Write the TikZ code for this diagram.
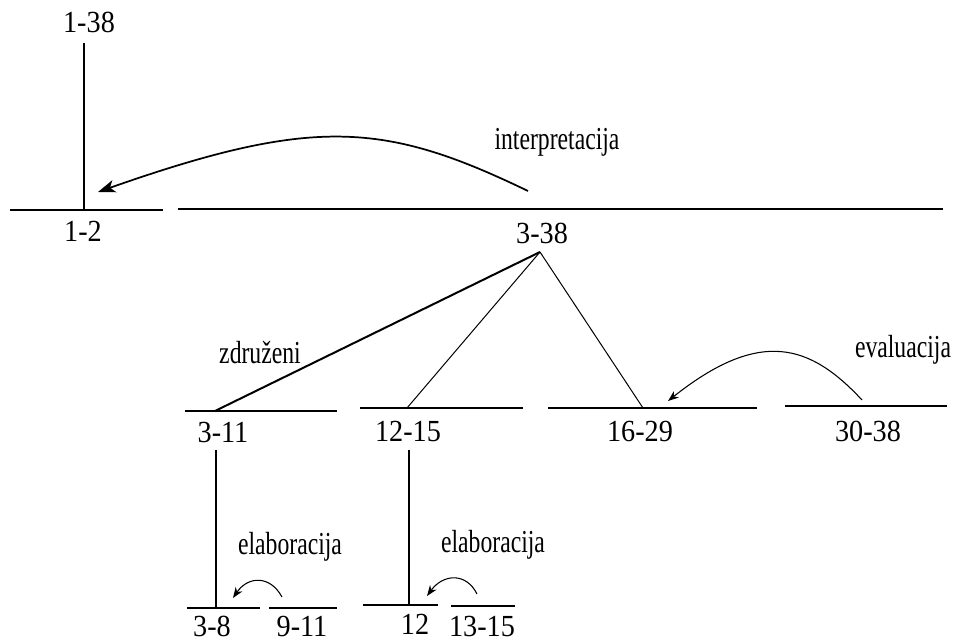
\documentclass[tikz,border=0pt]{standalone}
\usepackage{fontspec}
\setmainfont[FakeStretch=0.74]{Liberation Serif}
\newfontfamily\numfont[FakeStretch=0.92]{Liberation Serif}
\usetikzlibrary{arrows.meta}
\begin{document}
\begin{tikzpicture}[x=0.75pt,y=-0.75pt,
  lbl/.style={inner sep=0pt,font=\fontsize{24}{28}\selectfont},
  num/.style={inner sep=0pt,font=\numfont\fontsize{23}{27}\selectfont},
  seg/.style={line width=1.5pt},
  thinseg/.style={line width=0.75pt},
  bigarrow/.style={line width=1.3pt,-{Stealth[length=13pt,width=9.5pt,inset=3.5pt]}},
  smallarrow/.style={line width=0.8pt,-{Stealth[length=8pt,width=6pt,inset=2.5pt]}}]
\useasboundingbox (0,0) rectangle (964,641);
% labels
\node[num] (n138) at (89,22) {1-38};
\node[num] (n12) at (83,231) {1-2};
\node[lbl] (ninterp) at (557,142) {interpretacija};
\node[num] (n338) at (542,233) {3-38};
\node[lbl] (nzdr) at (260,353) {združeni};
\node[lbl] (neval) at (903,350) {evaluacija};
\node[num] (n311) at (223,432) {3-11};
\node[num] (n1215) at (408,431) {12-15};
\node[num] (n1629) at (640,431) {16-29};
\node[num] (n3038) at (868,431) {30-38};
\node[lbl] (nel1) at (290,547) {elaboracija};
\node[lbl] (nel2) at (493,545) {elaboracija};
\node[num] (n38) at (212,626) {3-8};
\node[num] (n911) at (302,626) {9-11};
\node[num] (n12b) at (415,624) {12};
\node[num] (n1315) at (482,626) {13-15};
% coordinates
\coordinate (t1) at (84,43);
\coordinate (b1) at (84,209);
\coordinate (h12a) at (10,210);
\coordinate (h12b) at (163,210);
\coordinate (h338a) at (178,209);
\coordinate (h338b) at (943,209);
\coordinate (apex) at (540,252);
\coordinate (h311a) at (185,411);
\coordinate (h311b) at (337,411);
\coordinate (j311) at (215,411);
\coordinate (h1215a) at (360,408);
\coordinate (h1215b) at (523,408);
\coordinate (j1215) at (407,408);
\coordinate (h1629a) at (548,408);
\coordinate (h1629b) at (757,408);
\coordinate (j1629) at (643,408);
\coordinate (h3038a) at (785,406);
\coordinate (h3038b) at (947,406);
\coordinate (v311t) at (216,450);
\coordinate (v311b) at (216,607);
\coordinate (v1215t) at (409,450);
\coordinate (v1215b) at (409,605);
\coordinate (h38a) at (187,608);
\coordinate (h38b) at (260,608);
\coordinate (h911a) at (269,608);
\coordinate (h911b) at (337,608);
\coordinate (h12ba) at (363,605);
\coordinate (h12bb) at (438,605);
\coordinate (h1315a) at (451,606);
\coordinate (h1315b) at (515,606);
\coordinate (ia) at (528,191);
\coordinate (ib) at (98,192);
\coordinate (ea) at (862,400);
\coordinate (eb) at (668,401);
\coordinate (e1a) at (282,597);
\coordinate (e1b) at (233,598);
\coordinate (e2a) at (477,594);
\coordinate (e2b) at (427,596);
% lines
\draw[line width=1pt] (t1) -- (b1);
\draw[seg] (h12a) -- (h12b);
\draw[seg] (h338a) -- (h338b);
\draw[seg] (h311a) -- (h311b);
\draw[line width=1.1pt] (h1215a) -- (h1215b);
\draw[seg] (h1629a) -- (h1629b);
\draw[line width=1.1pt] (h3038a) -- (h3038b);
\draw[line width=1.5pt] (apex) -- (j311);
\draw[thinseg] (apex) -- (j1215);
\draw[thinseg] (apex) -- (j1629);
\draw[line width=1.2pt] (v311t) -- (v311b);
\draw[line width=1.2pt] (v1215t) -- (v1215b);
\draw[seg] (h38a) -- (h38b);
\draw[seg] (h911a) -- (h911b);
\draw[seg] (h12ba) -- (h12bb);
\draw[seg] (h1315a) -- (h1315b);
% arrows
\draw[bigarrow] (ia) .. controls (385,122) and (314,116) .. (ib);
\draw[smallarrow] (ea) .. controls (810,344) and (760,328) .. (eb);
\draw[smallarrow] (e1a) .. controls (270,575) and (248,576) .. (e1b);
\draw[smallarrow] (e2a) .. controls (466,572) and (443,574) .. (e2b);
\end{tikzpicture}
\end{document}
